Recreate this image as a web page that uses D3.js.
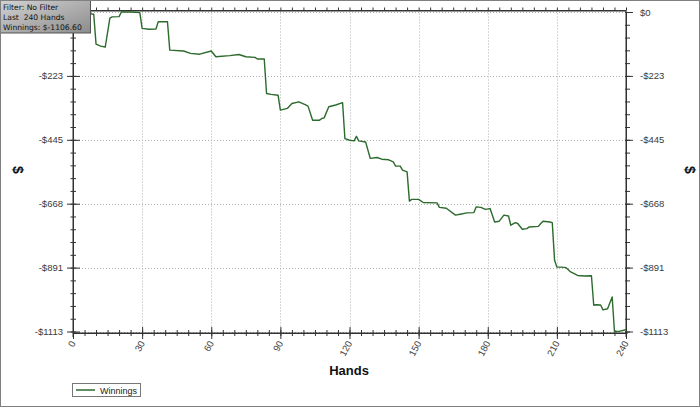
<!DOCTYPE html>
<html><head><meta charset="utf-8">
<script src="https://cdn.jsdelivr.net/npm/d3@7/dist/d3.min.js"></script>
<style>html,body{margin:0;padding:0;background:#fff}svg{display:block}</style>
</head><body>
<svg id="c" width="700" height="407"></svg>
<script>
// ---- data ----
const hands = [0,4,9,10,12,14,16,17,20,21,25,29,30,33,36,37,41,42,48,51,55,60,62,68,72,75,79,80,83,84,86,89,90,93,95,98,101,102,104,107,108,109,111,114,117,118,120,122,123,124,127,129,132,134,137,139,140,142,143,145,146,147,150,152,158,159,162,166,168,171,174,175,177,179,181,183,185,187,189,190,192,193,195,197,198,202,203,204,207,208,209,210,212,214,216,219,222,225,226,227,229,230,232,234,235,237,239,240];
const winnings = [0,-3,-8,-112,-119,-122,-21,-17,-16,0,0,-2,-57,-60,-59,-34,-34,-133,-136,-144,-147,-136,-156,-152,-148,-156,-158,-164,-164,-284,-287,-290,-342,-336,-319,-313,-324,-328,-377,-377,-371,-369,-330,-324,-316,-441,-447,-449,-433,-449,-453,-510,-507,-513,-515,-522,-537,-537,-551,-557,-659,-653,-653,-664,-665,-681,-684,-708,-705,-700,-699,-679,-681,-688,-685,-732,-729,-708,-711,-743,-734,-737,-757,-755,-749,-747,-737,-729,-732,-734,-865,-889,-889,-891,-906,-918,-920,-919,-1022,-1020,-1021,-1038,-1034,-993,-1113.4,-1113,-1109,-1106.6];
const xTickValues = [0,30,60,90,120,150,180,210,240];
const xTickLabels = ["0","30","60","90","120","150","180","210","240"];
const yTickLabels = ["$0","-$223","-$445","-$668","-$891","-$1113"];
const infoLines = ["Filter: No Filter","Last\u00a0\u00a0240 Hands","Winnings: $-1106.60"];
const seriesName = "Winnings";
const yMin = -1113.4, yMax = 0;

// ---- layout ----
const svg = d3.select("#c");
const x = d3.scaleLinear().domain([0,240]).range([73,626]);
const y = d3.scaleLinear().domain([yMin,yMax]).range([331.5,12]);
const yTickValues = yTickLabels.map((_,i)=> yMax + (yMin-yMax)*i/5);
const xMinor = d3.range(0,241,5);
const yMinor = d3.range(0,26).map(i=> yMax + (yMin-yMax)*i/25);
const topY = 10.5, botY = 333, leftX = 73, rightX = 626;
const axisColor = "#333";

// grid
const grid = svg.append("g").attr("stroke","#b0b0b0").attr("stroke-dasharray","1,2").attr("stroke-width",1);
xTickValues.filter(v=>v>0 && v<240).forEach(v=>{
  grid.append("line").attr("x1",Math.round(x(v))+0.5).attr("x2",Math.round(x(v))+0.5).attr("y1",topY).attr("y2",botY);
});
yTickValues.forEach(v=>{
  grid.append("line").attr("x1",leftX).attr("x2",rightX).attr("y1",Math.round(y(v))+0.5).attr("y2",Math.round(y(v))+0.5);
});

function styleAxis(g){ g.select(".domain").attr("stroke",axisColor); g.selectAll(".tick line").attr("stroke",axisColor); g.selectAll("text").remove(); }
// bottom
const bAx = svg.append("g").attr("transform",`translate(0,${botY})`).call(d3.axisBottom(x).tickValues(xTickValues).tickSize(6).tickSizeOuter(0)).call(styleAxis);
bAx.selectAll(".tick line").attr("y1",-6);
const bMin = svg.append("g").attr("transform",`translate(0,${botY})`).call(d3.axisBottom(x).tickValues(xMinor).tickSize(3).tickSizeOuter(0)).call(styleAxis);
bMin.selectAll(".tick line").attr("y1",-3);
// top
svg.append("g").attr("transform",`translate(0,${topY})`).call(d3.axisTop(x).tickValues(xMinor).tickSize(3).tickSizeOuter(0)).call(styleAxis);
// left
const lAx = svg.append("g").attr("transform",`translate(${leftX},0)`).call(d3.axisLeft(y).tickValues(yTickValues).tickSize(6).tickSizeOuter(0)).call(styleAxis);
lAx.selectAll(".tick line").attr("x1",7);
const lMin = svg.append("g").attr("transform",`translate(${leftX},0)`).call(d3.axisLeft(y).tickValues(yMinor).tickSize(2.5).tickSizeOuter(0)).call(styleAxis);
lMin.selectAll(".tick line").attr("x1",3);
// right
const rAx = svg.append("g").attr("transform",`translate(${rightX},0)`).call(d3.axisRight(y).tickValues(yTickValues).tickSize(7).tickSizeOuter(0)).call(styleAxis);
rAx.selectAll(".tick line").attr("x1",-1);
const rMin = svg.append("g").attr("transform",`translate(${rightX},0)`).call(d3.axisRight(y).tickValues(yMinor).tickSize(4).tickSizeOuter(0)).call(styleAxis);
rMin.selectAll(".tick line").attr("x1",-1);
// full axis lines
svg.append("line").attr("x1",leftX).attr("x2",leftX).attr("y1",topY).attr("y2",botY+4).attr("stroke",axisColor);
svg.append("line").attr("x1",rightX).attr("x2",rightX).attr("y1",topY).attr("y2",botY+4).attr("stroke",axisColor);
svg.append("line").attr("x1",leftX).attr("x2",rightX).attr("y1",topY).attr("y2",topY).attr("stroke",axisColor);
svg.append("line").attr("x1",leftX).attr("x2",rightX+2).attr("y1",botY).attr("y2",botY).attr("stroke",axisColor);

// y labels
const lblFont = "'Liberation Sans', Arial, sans-serif";
yTickValues.forEach((v,i)=>{
  svg.append("text").attr("x",63).attr("y",y(v)+3.5).attr("text-anchor","end")
    .attr("font-family",lblFont).attr("font-size",9.5).attr("fill","#3a3a3a").text(yTickLabels[i]);
  svg.append("text").attr("x",640).attr("y",y(v)+3.5).attr("text-anchor","start")
    .attr("font-family",lblFont).attr("font-size",9.5).attr("fill","#3a3a3a").text(yTickLabels[i]);
});
// x labels rotated
xTickValues.forEach((v,i)=>{
  svg.append("text").attr("transform",`translate(${x(v)+3},${botY+10}) rotate(-62)`)
    .attr("text-anchor","end").attr("font-family",lblFont).attr("font-size",9.5).attr("fill","#3a3a3a").text(xTickLabels[i]);
});
// axis titles
svg.append("text").attr("x",349).attr("y",375).attr("text-anchor","middle").attr("font-family",lblFont)
  .attr("font-weight","bold").attr("font-size",13).attr("fill","#111").text("Hands");
svg.append("text").attr("transform","translate(13,170) rotate(90)").attr("text-anchor","middle").attr("font-family",lblFont)
  .attr("font-weight","bold").attr("font-size",14).attr("fill","#111").text("$");
svg.append("text").attr("transform","translate(685,170) rotate(90)").attr("text-anchor","middle").attr("font-family",lblFont)
  .attr("font-weight","bold").attr("font-size",14).attr("fill","#111").text("$");

// line
const line = d3.line().x((d,i)=>x(hands[i])).y((d,i)=>y(winnings[i]));
svg.append("path").datum(winnings).attr("d",line).attr("fill","none").attr("stroke","#2d6a2d").attr("stroke-width",1.4).attr("stroke-linejoin","round");

// info box
const defs = svg.append("defs");
const gr = defs.append("linearGradient").attr("id","ig").attr("x1","0").attr("y1","0").attr("x2","1").attr("y2","1");
gr.append("stop").attr("offset","0").attr("stop-color","#d2d2d2");
gr.append("stop").attr("offset","1").attr("stop-color","#8c8c8c");
svg.append("rect").attr("x",0.5).attr("y",0.5).attr("width",90).attr("height",32.5).attr("fill","url(#ig)").attr("stroke","#555");
infoLines.forEach((t,i)=>{
  svg.append("text").attr("x",3).attr("y",9.5+i*10.2).attr("font-family","'DejaVu Sans', Verdana, sans-serif")
    .attr("font-size",7.6).attr("fill","#111").text(t);
});

// legend
svg.append("rect").attr("x",72.5).attr("y",383.5).attr("width",68).attr("height",13).attr("fill","#fff").attr("stroke","#777");
svg.append("line").attr("x1",76).attr("x2",95).attr("y1",390).attr("y2",390).attr("stroke","#2d6a2d").attr("stroke-width",1.5);
svg.append("text").attr("x",100).attr("y",393.5).attr("font-family",lblFont).attr("font-size",9).attr("fill","#222").text(seriesName);

// outer frame
svg.append("rect").attr("x",0.5).attr("y",0.5).attr("width",699).attr("height",406).attr("fill","none").attr("stroke","#808080");
</script>
</body></html>
